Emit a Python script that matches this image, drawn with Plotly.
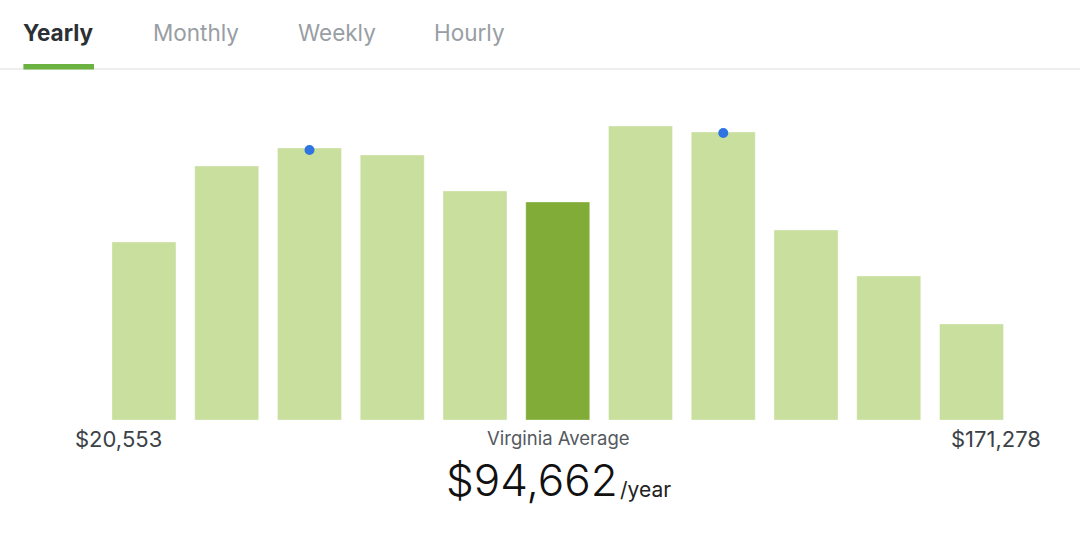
import plotly.graph_objects as go

W, H = 1080, 533

# ---- data ----
bins = ["b1", "b2", "b3", "b4", "b5", "b6", "b7", "b8", "b9", "b10", "b11"]
counts = [178, 254, 272, 265, 229, 218, 294, 288, 190, 144, 96]
avg_index = 5
dot_bins = ["b3", "b8"]
dot_values = [270, 287]
tabs = ["Yearly", "Monthly", "Weekly", "Hourly"]
min_label = "$20,553"
max_label = "$171,278"
avg_caption = "Virginia Average"
avg_value = "$94,662"
avg_unit = "/year"

LIGHT = "#c9df9e"
DARK = "#80ac37"
colors = [DARK if i == avg_index else LIGHT for i in range(len(bins))]

def px(x):
    return x / W

def py(y):
    return 1 - y / H

fig = go.Figure()
fig.add_trace(go.Bar(
    x=bins, y=counts,
    marker=dict(color=colors, line=dict(color="rgba(255,255,255,0.35)", width=1)),
    hoverinfo="skip",
))
fig.add_trace(go.Scatter(
    x=dot_bins, y=dot_values, mode="markers",
    marker=dict(color="#2f74e0", size=10),
    hoverinfo="skip",
))

FONT = "Inter, Liberation Sans, Arial, sans-serif"
ann = []
tab_x = [58.6, 196, 337, 469]
for i, (t, cx) in enumerate(zip(tabs, tab_x)):
    ann.append(dict(
        text=f"<b>{t}</b>" if i == 0 else t,
        x=px(cx), y=py(32.4), xref="paper", yref="paper",
        xanchor="center", yanchor="middle", showarrow=False,
        font=dict(family=FONT, size=22.5, color="#2b3035" if i == 0 else "#989ea3"),
    ))

ann.append(dict(text=min_label, x=px(73), y=py(439), xref="paper", yref="paper",
                xanchor="left", yanchor="middle", showarrow=False,
                font=dict(family=FONT, size=22, color="#3c4248")))
ann.append(dict(text=max_label, x=px(1043), y=py(439), xref="paper", yref="paper",
                xanchor="right", yanchor="middle", showarrow=False,
                font=dict(family=FONT, size=22, color="#3c4248")))
ann.append(dict(text=avg_caption, x=px(558.5), y=py(438.4), xref="paper", yref="paper",
                xanchor="center", yanchor="middle", showarrow=False,
                font=dict(family=FONT, size=18.5, color="#54595e")))
ann.append(dict(text=avg_value, x=px(532), y=py(480), xref="paper", yref="paper",
                xanchor="center", yanchor="middle", showarrow=False,
                font=dict(family=FONT, size=44, color="#111111", weight=300)))
ann.append(dict(text=avg_unit, x=px(618), y=py(490), xref="paper", yref="paper",
                xanchor="left", yanchor="middle", showarrow=False,
                font=dict(family=FONT, size=21, color="#222222")))

shapes = [
    dict(type="line", xref="paper", yref="paper", x0=0, x1=1, y0=py(69), y1=py(69),
         line=dict(color="#dddddd", width=1.2)),
    dict(type="rect", xref="paper", yref="paper", x0=px(23.4), x1=px(94),
         y0=py(69.5), y1=py(64), fillcolor="#6bb240", line=dict(width=0)),
]

fig.update_layout(
    width=W, height=H, autosize=False,
    margin=dict(l=0, r=0, t=0, b=0),
    paper_bgcolor="white", plot_bgcolor="white",
    showlegend=False, bargap=0.227,
    xaxis=dict(domain=[px(102.6), px(1012.9)], range=[-0.5, 10.5],
               showticklabels=False, showgrid=False, zeroline=False, showline=False,
               fixedrange=True),
    yaxis=dict(domain=[py(420), py(100)], range=[0, 320],
               showticklabels=False, showgrid=False, zeroline=False, showline=False,
               fixedrange=True),
    annotations=ann, shapes=shapes,
)

fig.write_html("out.html", config={"displayModeBar": False},
               post_script="document.body.style.margin='0';")
